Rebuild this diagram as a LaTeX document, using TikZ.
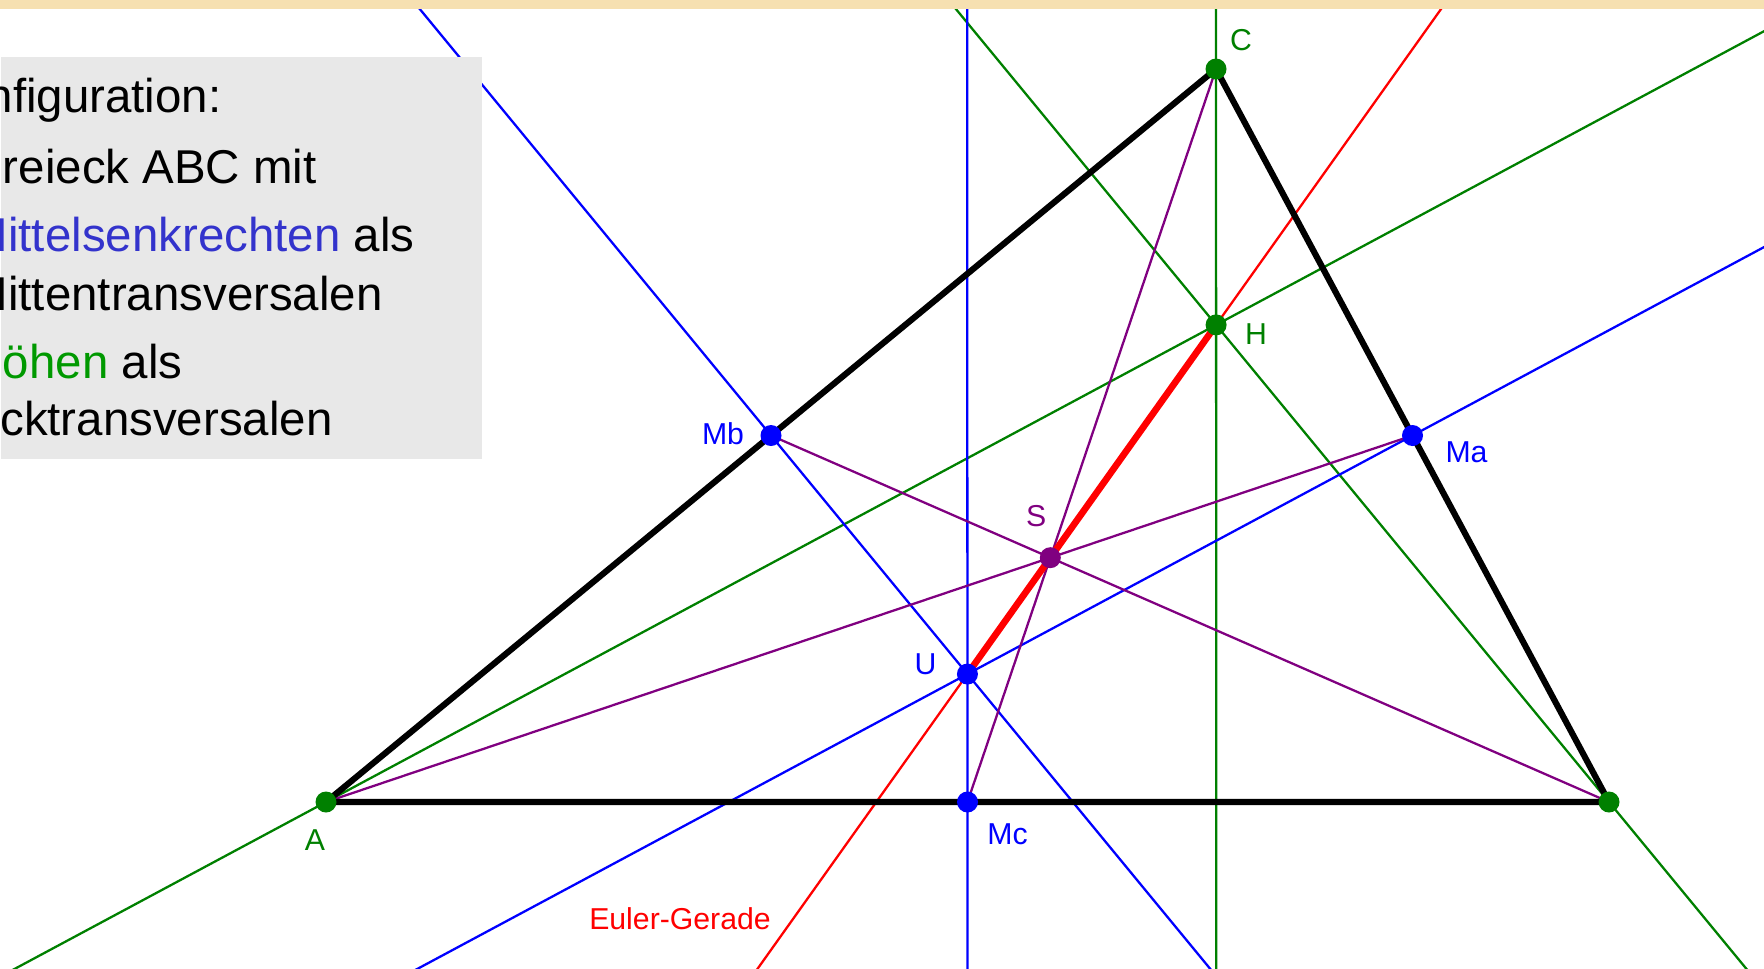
\documentclass[tikz,border=0pt]{standalone}
\usepackage{fontspec}
\setmainfont{Liberation Sans}
\usetikzlibrary{calc}

\definecolor{bandcol}{RGB}{246,224,177}
\definecolor{panelgray}{RGB}{232,232,232}
\definecolor{textblue}{RGB}{51,51,204}
\definecolor{textgreen}{RGB}{0,153,0}
\definecolor{geogreen}{RGB}{0,128,0}
\definecolor{geopurple}{RGB}{128,0,128}

\begin{document}
\begin{tikzpicture}[
  x=0.1mm, y=-0.1mm,
  font=\fontsize{8.6}{10}\selectfont,
  geoline/.style={line width=0.65pt},
  fullline/.style={geoline, shorten <=-40cm, shorten >=-40cm},
  sideline/.style={line width=1.75pt, line join=round, line cap=round},
  dot/.style={circle, inner sep=0pt, minimum size=2.1mm},
  lbl/.style={inner sep=0pt},
  panel/.style={fill=panelgray, inner sep=0pt, minimum width=48.1mm, minimum height=40.2mm, anchor=north west},
  item/.style={anchor=base west, inner sep=0pt, font=\fontsize{13.5}{16}\selectfont}
]
\useasboundingbox (0,0) rectangle (1764,968);
\clip (0,0) rectangle (1764,968);

% triangle and its special points
\coordinate (A) at (326,802);
\coordinate (B) at (1609,802);
\coordinate (C) at (1216,69);
\coordinate (Ma) at ($(B)!0.5!(C)$);
\coordinate (Mb) at ($(A)!0.5!(C)$);
\coordinate (Mc) at ($(A)!0.5!(B)$);
\coordinate (Fa) at ($(B)!(A)!(C)$);
\coordinate (Fc) at ($(A)!(C)!(B)$);
\coordinate (H) at (intersection of A--Fa and C--Fc);
\coordinate (S) at ($(A)!2/3!(Ma)$);
\coordinate (U) at ($(S)!-0.5!(H)$);

% Hoehen
\draw[fullline, geogreen] (A) -- (H);
\draw[fullline, geogreen] (B) -- (H);
\draw[fullline, geogreen] (C) -- (H);
% Mittelsenkrechten
\draw[fullline, blue] (U) -- (Ma);
\draw[fullline, blue] (U) -- (Mb);
\draw[fullline, blue] (U) -- (Mc);
% Seitenhalbierende
\draw[geoline, geopurple] (A) -- (Ma);
\draw[geoline, geopurple] (B) -- (Mb);
\draw[geoline, geopurple] (C) -- (Mc);
% Euler-Gerade
\draw[fullline, red] (U) -- (H);
\draw[red, line width=1.9pt] (U) -- (H);

\draw[sideline] (A) -- (B) -- (C) -- cycle;

\node[dot, fill=geogreen] (pA) at (A) {};
\node[dot, fill=geogreen] (pB) at (B) {};
\node[dot, fill=geogreen] (pC) at (C) {};
\node[dot, fill=geogreen] (pH) at (H) {};
\node[dot, fill=blue] (pMa) at (Ma) {};
\node[dot, fill=blue] (pMb) at (Mb) {};
\node[dot, fill=blue] (pMc) at (Mc) {};
\node[dot, fill=blue] (pU) at (U) {};
\node[dot, fill=geopurple] (pS) at (S) {};

\node[lbl, text=geogreen] (lA) at ($(A)+(-11,38)$) {A};
\node[lbl, text=geogreen] (lC) at ($(C)+(25,-29)$) {C};
\node[lbl, text=geogreen] (lH) at ($(H)+(40,9)$) {H};
\node[lbl, text=blue] (lMa) at ($(Ma)+(54,17)$) {Ma};
\node[lbl, text=blue] (lMb) at ($(Mb)+(-48,-2)$) {Mb};
\node[lbl, text=blue] (lMc) at ($(Mc)+(40,32)$) {Mc};
\node[lbl, text=blue] (lU) at ($(U)+(-42,-10)$) {U};
\node[lbl, text=geopurple] (lS) at ($(S)+(-14,-42)$) {S};
\node[lbl, text=red] (lEuler) at (680,919) {Euler-Gerade};

% text panel
\node[panel] (panel) at (0,56) {};
\node[item] (t1) at (-72,112) {Konfiguration:};
\node[item] (t2) at (-32,183) {Dreieck ABC mit};
\node[item] (t3) at (-32,251) {\textcolor{textblue}{Mittelsenkrechten} als};
\node[item] (t4) at (-32,310) {Mittentransversalen};
\node[item] (t5) at (-32,378) {\textcolor{textgreen}{Höhen} als};
\node[item] (t6) at (-32,435) {Ecktransversalen};

\fill[bandcol] (0,0) rectangle (1764,9);
\end{tikzpicture}
\end{document}
